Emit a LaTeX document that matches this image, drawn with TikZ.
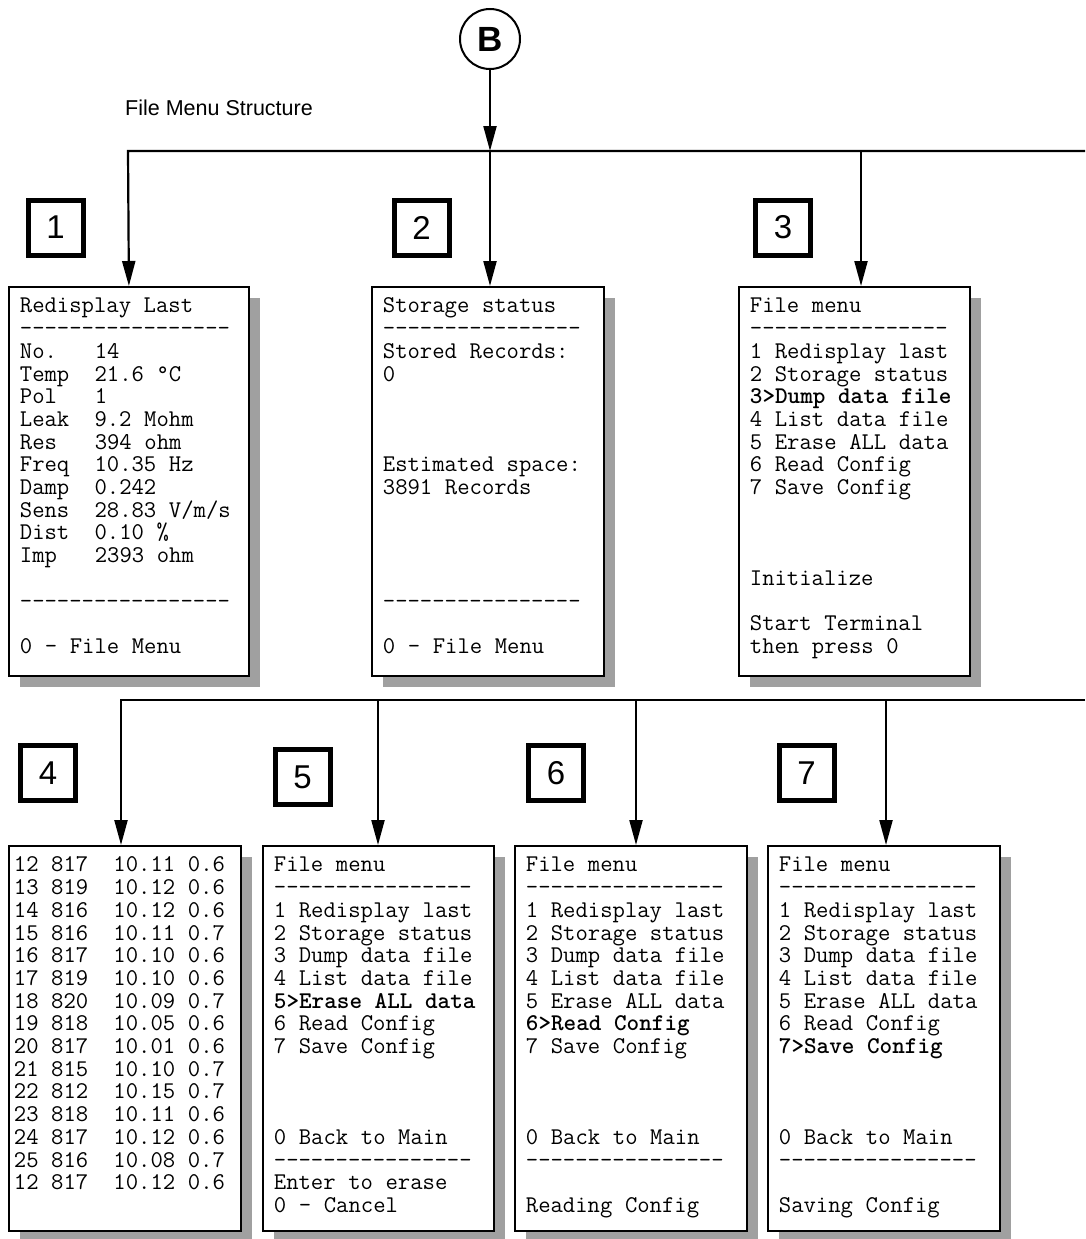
\documentclass[tikz,border=0pt]{standalone}
\usepackage{fontspec}
\usepackage{xcolor}
\usepackage{tikz}
\usetikzlibrary{positioning, arrows.meta, calc, shadows}
\newfontfamily\labelfont{Liberation Sans}
\definecolor{shadowgray}{HTML}{A0A0A0}

% terminal text, fixed pitch (a space is as wide as a character)
\newcommand\scrfont{\fontsize{24}{22.7}\selectfont\ttfamily\frenchspacing}
\newcommand\pick[1]{\textbf{#1}}
\newcommand\tsp{\hspace*{12.6pt}}
% one row of the data dump
\newcommand\datarow[4]{#1\tsp#2\tsp\tsp#3\tsp#4}
\newcommand\dashline[1]{\foreach \d in {1,...,#1}{-}}

\tikzset{
  screen/.style={draw, line width=1.8pt, fill=white, anchor=north west,
    align=left, inner xsep=11pt, inner ysep=0pt, text width=#1,
    text height=26pt, text depth=363pt, font=\scrfont,
    execute at begin node={\spaceskip=12.6pt\xspaceskip=12.6pt\relax},
    drop shadow={shadow xshift=11pt, shadow yshift=-11pt, fill=shadowgray, opacity=1}},
  numbox/.style={draw, line width=5pt, minimum size=55pt, inner sep=0pt,
    font=\labelfont\fontsize{33}{33}\selectfont},
  wire/.style={line width=2.2pt},
  arr/.style={wire, -{Triangle[length=25pt, width=13pt]}},
}

\begin{document}
\begin{tikzpicture}[x=1pt, y=-1pt]
  \useasboundingbox (0,0) rectangle (1085,1239);

  \node[inner sep=0pt, anchor=west, font=\labelfont\fontsize{21.5}{24}\selectfont]
    (title) at (125,108) {File Menu Structure};
  \node[draw, circle, line width=2pt, minimum size=60pt, inner sep=0pt,
    font=\labelfont\bfseries\fontsize{35}{35}\selectfont] (b) at (490,39) {B};

  % first row
  \node[screen=218pt] (scr1) at (8,286) {%
    Redisplay Last\\
    \dashline{17}\\
    No.\tsp\tsp\tsp 14\\
    Temp\tsp\tsp 21.6 °C\\
    Pol\tsp\tsp\tsp 1\\
    Leak\tsp\tsp 9.2 Mohm\\
    Res\tsp\tsp\tsp 394 ohm\\
    Freq\tsp\tsp 10.35 Hz\\
    Damp\tsp\tsp 0.242\\
    Sens\tsp\tsp 28.83 V/m/s\\
    Dist\tsp\tsp 0.10 \%\\
    Imp\tsp\tsp\tsp 2393 ohm\\
    ~\\
    \dashline{17}\\
    ~\\
    0 - File Menu};
  \node[screen=210pt] (scr2) at (371,286) {%
    Storage status\\
    \dashline{16}\\
    Stored Records:\\
    0\\
    ~\\ ~\\ ~\\
    Estimated space:\\
    3891 Records\\
    ~\\ ~\\ ~\\ ~\\
    \dashline{16}\\
    ~\\
    0 - File Menu};
  \node[screen=209pt] (scr3) at (738,286) {%
    File menu\\
    \dashline{16}\\
    1 Redisplay last\\
    2 Storage status\\
    \pick{3>Dump data file}\\
    4 List data file\\
    5 Erase ALL data\\
    6 Read Config\\
    7 Save Config\\
    ~\\ ~\\ ~\\
    Initialize\\
    ~\\
    Start Terminal\\
    then press 0};

  \node[numbox] (n1) at (55.5,227.5) {1};
  \node[numbox] (n2) at (421.5,227.5) {2};
  \node[numbox] (n3) at (783,227.5) {3};

  \coordinate (topw) at (128,151);
  \coordinate (tope) at (1085,151);
  \coordinate (topb) at (490,151);
  \coordinate (top3) at (861,151);
  \draw[arr] (b) -- (topb);
  \draw[arr] (tope) -- (topw) -- (scr1.north);
  \draw[arr] (topb) -- (topb |- scr2.north);
  \draw[arr] (top3) -- (top3 |- scr3.north);

  % second row
  \node[screen=222pt, inner xsep=5pt, text depth=359pt] (scr4) at (8,845) {%
    \datarow{12}{817}{10.11}{0.6}\\
    \datarow{13}{819}{10.12}{0.6}\\
    \datarow{14}{816}{10.12}{0.6}\\
    \datarow{15}{816}{10.11}{0.7}\\
    \datarow{16}{817}{10.10}{0.6}\\
    \datarow{17}{819}{10.10}{0.6}\\
    \datarow{18}{820}{10.09}{0.7}\\
    \datarow{19}{818}{10.05}{0.6}\\
    \datarow{20}{817}{10.01}{0.6}\\
    \datarow{21}{815}{10.10}{0.7}\\
    \datarow{22}{812}{10.15}{0.7}\\
    \datarow{23}{818}{10.11}{0.6}\\
    \datarow{24}{817}{10.12}{0.6}\\
    \datarow{25}{816}{10.08}{0.7}\\
    \datarow{12}{817}{10.12}{0.6}};
  \node[screen=209pt, text depth=359pt] (scr5) at (262,845) {%
    File menu\\
    \dashline{16}\\
    1 Redisplay last\\
    2 Storage status\\
    3 Dump data file\\
    4 List data file\\
    \pick{5>Erase ALL data}\\
    6 Read Config\\
    7 Save Config\\
    ~\\ ~\\ ~\\
    0 Back to Main\\
    \dashline{16}\\
    Enter to erase\\
    0 - Cancel};
  \node[screen=210pt, text depth=359pt] (scr6) at (514,845) {%
    File menu\\
    \dashline{16}\\
    1 Redisplay last\\
    2 Storage status\\
    3 Dump data file\\
    4 List data file\\
    5 Erase ALL data\\
    \pick{6>Read Config}\\
    7 Save Config\\
    ~\\ ~\\ ~\\
    0 Back to Main\\
    \dashline{16}\\
    ~\\
    Reading Config};
  \node[screen=210pt, text depth=359pt] (scr7) at (767,845) {%
    File menu\\
    \dashline{16}\\
    1 Redisplay last\\
    2 Storage status\\
    3 Dump data file\\
    4 List data file\\
    5 Erase ALL data\\
    6 Read Config\\
    \pick{7>Save Config}\\
    ~\\ ~\\ ~\\
    0 Back to Main\\
    \dashline{16}\\
    ~\\
    Saving Config};

  \node[numbox] (n4) at (48,773) {4};
  \node[numbox] (n5) at (302.5,777) {5};
  \node[numbox] (n6) at (556,773) {6};
  \node[numbox] (n7) at (806.5,773) {7};

  \coordinate (botw) at (121,700);
  \coordinate (bote) at (1085,700);
  \coordinate (bot5) at (378,700);
  \coordinate (bot6) at (636,700);
  \coordinate (bot7) at (886,700);
  \draw[arr] (bote) -- (botw) -- (botw |- scr4.north);
  \draw[arr] (bot5) -- (bot5 |- scr5.north);
  \draw[arr] (bot6) -- (bot6 |- scr6.north);
  \draw[arr] (bot7) -- (bot7 |- scr7.north);
\end{tikzpicture}
\end{document}
